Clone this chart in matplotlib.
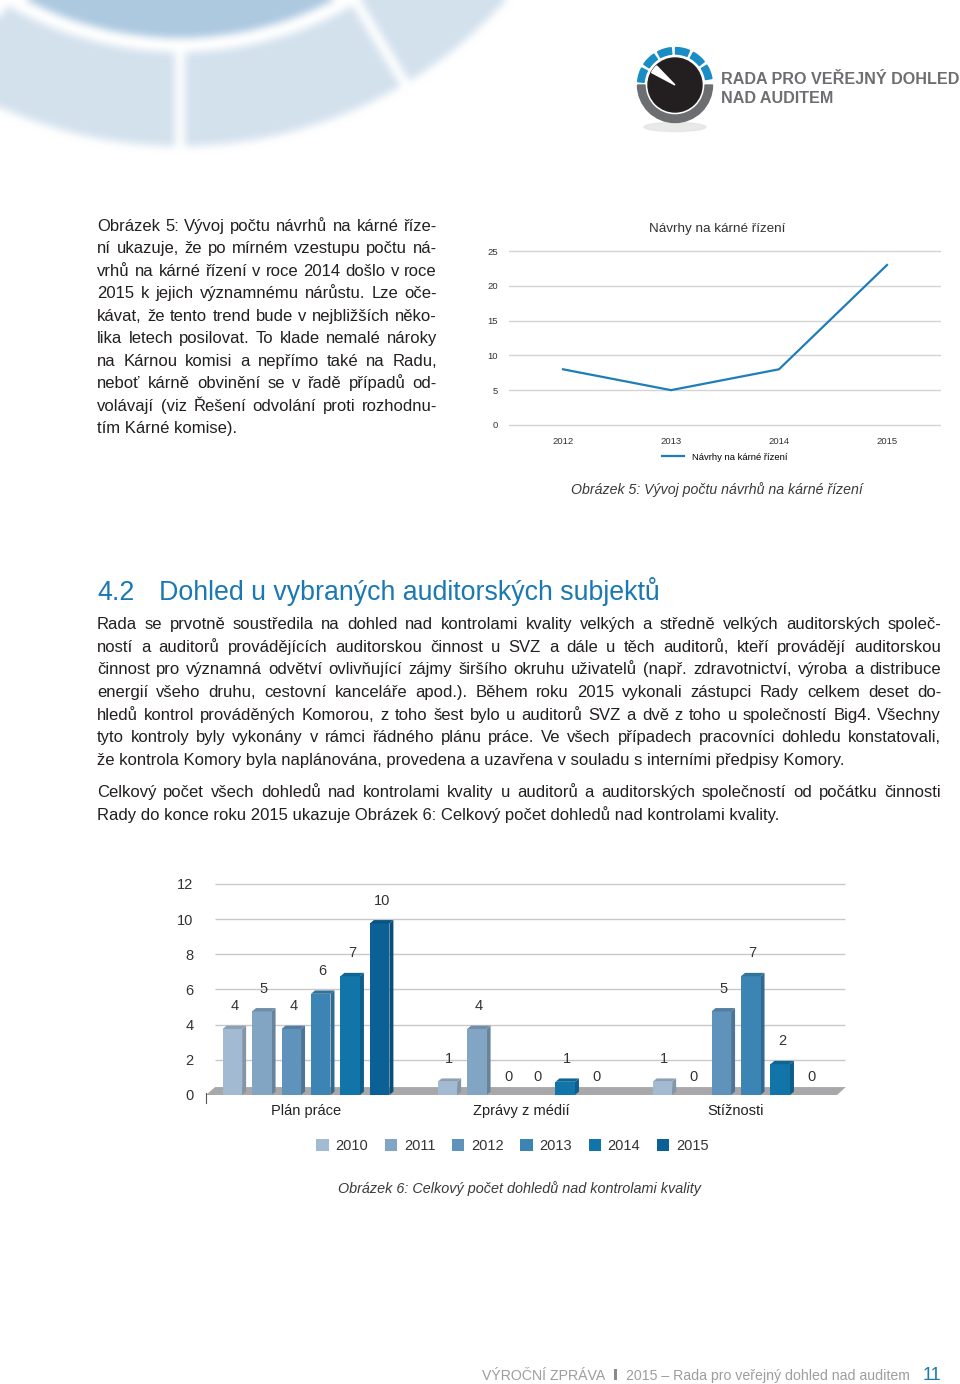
import numpy as np
import matplotlib
matplotlib.use('Agg')
import matplotlib.pyplot as plt
from matplotlib.patches import Polygon, Wedge, Circle, Ellipse, Patch, Rectangle
from matplotlib.font_manager import FontProperties
from matplotlib.colors import to_rgb

plt.rcParams['font.family'] = ['Liberation Sans', 'DejaVu Sans']

# --- data ---
line_years = ['2012', '2013', '2014', '2015']
line_values = [8, 5, 8, 23]
line_name = 'Návrhy na kárné řízení'

bar_groups = ['Plán práce', 'Zprávy z médií', 'Stížnosti']
bar_years = ['2010', '2011', '2012', '2013', '2014', '2015']
v2010 = [4, 1, 1]
v2011 = [5, 4, 0]
v2012 = [4, 0, 5]
v2013 = [6, 0, 7]
v2014 = [7, 1, 2]
v2015 = [10, 0, 0]
bar_series = [v2010, v2011, v2012, v2013, v2014, v2015]
bar_colors = ['#a3bbd2', '#82a5c3', '#6093bb', '#3c84b4', '#1275aa', '#0b6196']

# --- texty ---
left_par = [
    'Obrázek 5: Vývoj počtu návrhů na kárné říze-',
    'ní ukazuje, že po mírném vzestupu počtu ná-',
    'vrhů na kárné řízení v roce 2014 došlo v roce',
    '2015 k jejich významnému nárůstu. Lze oče-',
    'kávat, že tento trend bude v nejbližších něko-',
    'lika letech posilovat. To klade nemalé nároky',
    'na Kárnou komisi a nepřímo také na Radu,',
    'neboť kárně obvinění se v řadě případů od-',
    'volávají (viz Řešení odvolání proti rozhodnu-',
    'tím Kárné komise).',
]
body_par1 = [
    'Rada se prvotně soustředila na dohled nad kontrolami kvality velkých a středně velkých auditorských společ-',
    'ností a auditorů provádějících auditorskou činnost u SVZ a dále u těch auditorů, kteří provádějí auditorskou',
    'činnost pro významná odvětví ovlivňující zájmy širšího okruhu uživatelů (např. zdravotnictví, výroba a distribuce',
    'energií všeho druhu, cestovní kanceláře apod.). Během roku 2015 vykonali zástupci Rady celkem deset do-',
    'hledů kontrol prováděných Komorou, z toho šest bylo u auditorů SVZ a dvě z toho u společností Big4. Všechny',
    'tyto kontroly byly vykonány v rámci řádného plánu práce. Ve všech případech pracovníci dohledu konstatovali,',
    'že kontrola Komory byla naplánována, provedena a uzavřena v souladu s interními předpisy Komory.',
]
body_par2 = [
    'Celkový počet všech dohledů nad kontrolami kvality u auditorů a auditorských společností od počátku činnosti',
    'Rady do konce roku 2015 ukazuje Obrázek 6: Celkový počet dohledů nad kontrolami kvality.',
]
caption5 = 'Obrázek 5: Vývoj počtu návrhů na kárné řízení'
caption6 = 'Obrázek 6: Celkový počet dohledů nad kontrolami kvality'

W, H = 960, 1384
fig = plt.figure(figsize=(W / 100, H / 100), dpi=100)
renderer = fig.canvas.get_renderer()

BLUE = '#1b78b3'
TXT = '#231f20'


def fx(x):
    return x / W


def fy(y):
    return 1 - y / H


def axes_px(x0, y0, x1, y1):
    return fig.add_axes([fx(x0), fy(y1), (x1 - x0) / W, (y1 - y0) / H])


def tw(s, fp):
    return renderer.get_text_width_height_descent(s, fp, ismath=False)[0]


def fitted(s, width, **kw):
    fp = FontProperties(size=10, **kw)
    return FontProperties(size=10 * width / tw(s, fp), **kw)


def shade(c, f):
    return tuple(min(1, v * f) for v in to_rgb(c))


# --- vodoznak vlevo nahoře ---
ax_bg = axes_px(0, 0, 560, 160)
yy, xx = np.mgrid[0:160, 0:560] + 0.5
r = np.hypot(xx - 180, yy + 291)
ang = np.arctan2(xx - 180, yy + 291)
img = np.ones((160, 560, 3))
ring = (r > 343) & (r < 437)
for g in (-31, 0, 31):
    ring &= np.abs(r * (ang - np.radians(g))) > 5
img[r < 329] = (0.68, 0.79, 0.88)
img[ring] = (0.83, 0.885, 0.933)


def box_blur(a, k):
    p = k // 2
    b = np.pad(a, ((p, p), (p, p), (0, 0)), mode='edge')
    out = np.zeros_like(a)
    for dy in range(k):
        for dx in range(k):
            out += b[dy:dy + a.shape[0], dx:dx + a.shape[1]]
    return out / (k * k)


img = box_blur(box_blur(img, 9), 9)
ax_bg.imshow(img, extent=(0, 560, 160, 0), aspect='auto', interpolation='bilinear')
ax_bg.axis('off')

# --- logo ---
ax_logo = axes_px(630, 40, 720, 135)
ax_logo.set_xlim(630, 720)
ax_logo.set_ylim(-135, -40)
ax_logo.axis('off')
c = (675, -85)
ax_logo.add_patch(Ellipse((675, -127), 62, 9, color='#e4e4e4', alpha=0.8))
ax_logo.add_patch(Wedge(c, 37.5, 180, 360, width=7.5, color='#6d6e71'))
for k in range(6):
    m = 21 + 28.6 * k
    ax_logo.add_patch(Wedge(c, 37.5, m - 11, m + 11, width=6.5, color='#1a8dc4'))
ax_logo.add_patch(Circle(c, 27, color='#231f20'))
ax_logo.add_patch(Wedge(c, 26.5, 134, 152, color='white'))

fp_logo = fitted('RADA PRO VEŘEJNÝ DOHLED', 237, family='Liberation Sans', weight='bold')
fig.text(fx(721), fy(84), 'RADA PRO VEŘEJNÝ DOHLED', fontproperties=fp_logo,
         color='#6d6e71', va='baseline')
fig.text(fx(721), fy(103), 'NAD AUDITEM', fontproperties=fp_logo,
         color='#6d6e71', va='baseline')

# --- odstavce do bloku ---
check = [(l, 340) for l in left_par[:-1]] + [(l, 844) for l in body_par1[:-1] + body_par2[:-1]]
size = 12.0
while size > 8:
    fp_body = FontProperties(family='Liberation Sans', size=size)
    sp = tw('a a', fp_body) - tw('aa', fp_body)
    if all(sum(tw(w, fp_body) for w in l.split()) + (len(l.split()) - 1) * 0.35 * sp <= t
           for l, t in check):
        break
    size -= 0.1


def justify(lines, x0, x1, yb, dy):
    for i, line in enumerate(lines):
        y = yb + i * dy
        if i == len(lines) - 1:
            fig.text(fx(x0), fy(y), line, fontproperties=fp_body, color=TXT, va='baseline')
            continue
        words = line.split()
        ws = [tw(w, fp_body) for w in words]
        gap = (x1 - x0 - sum(ws)) / (len(words) - 1)
        x = x0
        for w, wd in zip(words, ws):
            fig.text(fx(x), fy(y), w, fontproperties=fp_body, color=TXT, va='baseline')
            x += wd + gap


justify(left_par, 97, 437, 231, 22.44)
justify(body_par1, 97, 941, 629, 22.67)
justify(body_par2, 97, 941, 797, 22.67)

# nadpis
fp_head = fitted('Dohled u vybraných auditorských subjektů', 503, family='Liberation Sans')
fig.text(fx(97), fy(600), '4.2', fontproperties=fp_head, color=BLUE, va='baseline')
fig.text(fx(159), fy(600), 'Dohled u vybraných auditorských subjektů',
         fontproperties=fp_head, color=BLUE, va='baseline')

# --- spojnicový graf ---
ax1 = axes_px(509, 249, 941, 427)
ax1.plot(range(len(line_values)), line_values, color='#1f7db7', lw=1.6, label=line_name)
ax1.set_xlim(-0.5, 3.5)
ax1.set_ylim(-0.3, 25.3)
ax1.set_yticks(range(0, 26, 5))
ax1.set_xticks(range(4), line_years)
ax1.grid(axis='y', color='#d4d4d4', lw=1)
ax1.set_axisbelow(True)
for s in ax1.spines.values():
    s.set_visible(False)
ax1.tick_params(axis='y', length=0, labelsize=6.8, labelcolor='#333333', pad=8)
ax1.tick_params(axis='x', length=0, labelsize=6.8, labelcolor='#333333', pad=7)
fig.text(fx(717), fy(229), line_name, fontproperties=fitted(line_name, 137, family='Liberation Sans'),
         color='#333333', ha='center', va='center')
ax1.legend(loc='center', bbox_to_anchor=(fx(725), fy(457)), bbox_transform=fig.transFigure,
           frameon=False, fontsize=6.8, handlelength=2.3, handletextpad=0.85)
fig.text(fx(717), fy(490), caption5,
         fontproperties=fitted(caption5, 292, family='Liberation Sans', style='italic'),
         color='#3a3a3a', ha='center', va='center')

# --- sloupcový graf ---
ax2 = axes_px(198.5, 880.3, 850, 1102.9)
ax2.set_xlim(-0.5, 2.53)
ax2.set_ylim(-0.45, 12.2)
ax2.hlines(range(2, 13, 2), -0.423, 2.507, color='#c8c8c8', lw=1, zorder=0)
ax2.add_patch(Polygon([(-0.465, 0), (2.47, 0), (2.51, 0.45), (-0.423, 0.45)],
                      color='#a8a8aa', lw=0, zorder=1))

w, pitch, ddx = 0.0907, 0.137, 0.0186
xi = np.arange(len(bar_groups))
for k, (vals, col) in enumerate(zip(bar_series, bar_colors)):
    vals = np.array(vals, float)
    xc = xi + (k - 2.5) * pitch
    ax2.bar(xc, np.where(vals > 0, vals - 0.25, 0), width=w, color=col, lw=0, zorder=3)
    for x, v in zip(xc, vals):
        if v > 0:
            x0, x1 = x - w / 2, x + w / 2
            ax2.add_patch(Polygon([(x1, 0), (x1 + ddx, 0.19), (x1 + ddx, v - 0.06), (x1, v - 0.25)],
                                  color=shade(col, 0.8), lw=0, zorder=2.9))
            ax2.add_patch(Polygon([(x0, v - 0.25), (x1, v - 0.25), (x1 + ddx, v - 0.06), (x0 + ddx, v - 0.06)],
                                  color=shade(col, 0.86), lw=0, zorder=3.1))
        ax2.text(x + ddx / 2, v + 1.05, f'{v:g}', ha='center', va='center',
                 fontsize=10.5, color='#333333')

ax2.set_yticks(range(0, 13, 2))
ax2.set_xticks(xi, bar_groups)
for s in ('top', 'right', 'bottom'):
    ax2.spines[s].set_visible(False)
ax2.spines['left'].set_position(('data', -0.466))
ax2.spines['left'].set_bounds(-0.45, 0.1)
ax2.spines['left'].set_color('#555555')
ax2.spines['left'].set_linewidth(0.8)
ax2.tick_params(axis='y', length=0, labelsize=10.5, labelcolor='#333333', pad=9)
ax2.tick_params(axis='x', length=0, labelsize=10.5, labelcolor='#222222', pad=1)
ax2.patch.set_visible(False)

handles = [Patch(facecolor=c, edgecolor='none') for c in bar_colors]
fig.legend(handles, bar_years, loc='center', bbox_to_anchor=(fx(512.5), fy(1146)), ncol=6,
           frameon=False, fontsize=10.5, handlelength=0.85, handleheight=0.85,
           handletextpad=0.45, columnspacing=1.15, labelcolor='#333333')
fig.text(fx(519), fy(1189), caption6,
         fontproperties=fitted(caption6, 364, family='Liberation Sans', style='italic'),
         color='#3a3a3a', ha='center', va='center')

# --- zápatí ---
foot = '2015 – Rada pro veřejný dohled nad auditem'
fp_foot = fitted(foot, 284, family='Liberation Sans')
fig.text(fx(941), fy(1380), '11', fontsize=13, color=BLUE, ha='right', va='baseline')
fig.text(fx(910), fy(1380), foot, fontproperties=fp_foot, color='#9d9d9d', ha='right', va='baseline')
fig.add_artist(Rectangle((fx(614), fy(1380)), 3 / W, 11 / H, transform=fig.transFigure,
                         color='#8a8a8a', lw=0))
fig.text(fx(605), fy(1380), 'VÝROČNÍ ZPRÁVA', fontproperties=fp_foot, color='#9d9d9d',
         ha='right', va='baseline')

fig.savefig('out.png', dpi=100)
